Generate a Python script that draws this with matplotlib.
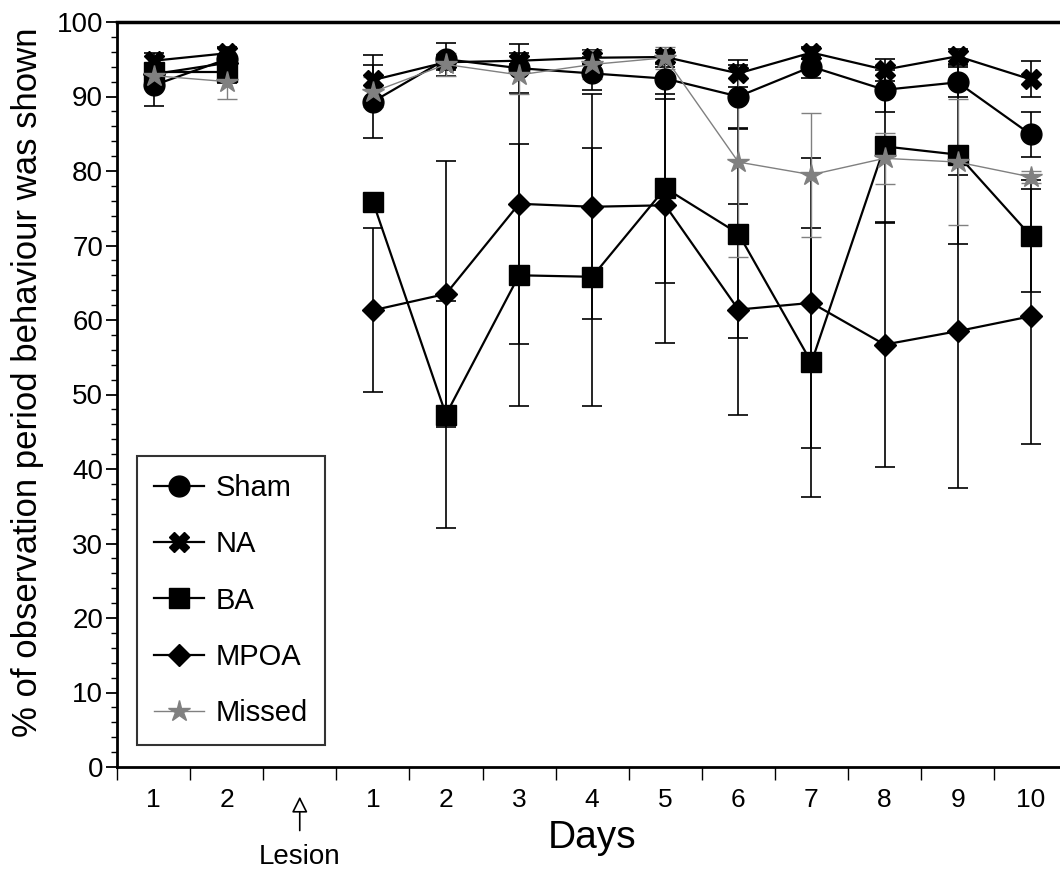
import numpy as np
import matplotlib
matplotlib.use('Agg')
import matplotlib.pyplot as plt
from matplotlib.ticker import MultipleLocator, FixedLocator

plt.rcParams['font.family'] = ['Liberation Sans', 'DejaVu Sans']

# ---------------------------------------------------------------- data
# 2 pre-lesion days followed by 10 post-lesion days
day_labels = ['1', '2', '', '1', '2', '3', '4', '5', '6', '7', '8', '9', '10']
series = ['Sham', 'NA', 'BA', 'MPOA', 'Missed']

sham = [91.5, 95.0, 89.3, 95.0, 93.8, 93.1, 92.4, 90.0, 94.0, 90.9, 91.9, 84.9]
na = [94.8, 95.8, 92.2, 94.6, 94.8, 95.2, 95.3, 93.1, 95.9, 93.6, 95.4, 92.3]
ba = [93.3, 93.3, 75.9, 47.3, 66.0, 65.8, 77.7, 71.6, 54.3, 83.3, 82.2, 71.3]
mpoa = [93.0, 94.5, 61.3, 63.5, 75.6, 75.2, 75.4, 61.4, 62.3, 56.7, 58.5, 60.5]
missed = [92.8, 92.0, 90.6, 94.3, 92.9, 94.3, 95.2, 81.2, 79.5, 81.7, 81.2, 79.2]

sham_se = [2.8, 1.5, 4.9, 2.2, 3.3, 2.2, 2.8, 4.2, 1.5, 3.0, 2.0, 3.0]
na_se = [1.0, 0.8, 3.4, 1.0, 1.0, 1.0, 1.0, 1.8, 0.8, 1.5, 1.0, 2.4]
ba_se = [1.0, 1.5, 1.0, 15.2, 17.6, 17.3, 12.7, 14.0, 18.0, 10.3, 12.0, 7.5]
mpoa_se = [1.0, 1.0, 11.0, 17.9, 18.8, 15.1, 18.5, 14.2, 19.5, 16.4, 21.0, 17.1]
missed_se = [1.5, 2.4, 2.0, 1.5, 2.5, 2.0, 1.5, 12.8, 8.3, 3.4, 8.4, 0.8]

# x slots: pre days 0,1 ; slot 2 = lesion ; post days 3..12
x_pos = np.array([0, 1, 3, 4, 5, 6, 7, 8, 9, 10, 11, 12])

styles = {
    'Sham':   dict(marker='o', ms=15, color='black', lw=1.6, elw=1.2),
    'NA':     dict(marker='X', ms=15, color='black', lw=1.6, elw=1.2),
    'BA':     dict(marker='s', ms=14, color='black', lw=1.6, elw=1.2),
    'MPOA':   dict(marker='D', ms=11, color='black', lw=1.6, elw=1.2),
    'Missed': dict(marker='*', ms=16, color='0.5', lw=1.0, elw=1.0),
}
values = {'Sham': sham, 'NA': na, 'BA': ba, 'MPOA': mpoa, 'Missed': missed}
errors = {'Sham': sham_se, 'NA': na_se, 'BA': ba_se, 'MPOA': mpoa_se, 'Missed': missed_se}

fig = plt.figure(figsize=(10.6, 8.73), dpi=100)
ax = fig.add_axes([117/1060, 1-767/873, 1-117/1060, (767-22)/873])

for name in series:
    st = styles[name]
    y = np.array(values[name])
    e = np.array(errors[name])
    for sl in (slice(0, 2), slice(2, 12)):
        ax.errorbar(x_pos[sl], y[sl], yerr=e[sl], fmt='none', ecolor=st['color'],
                    elinewidth=st['elw'], capsize=7, capthick=st['elw'], zorder=2)
    ax.plot(x_pos[:2], y[:2], color=st['color'], lw=st['lw'], marker=st['marker'],
            ms=st['ms'], mfc=st['color'], mec=st['color'], zorder=3)
    ax.plot(x_pos[2:], y[2:], color=st['color'], lw=st['lw'], marker=st['marker'],
            ms=st['ms'], mfc=st['color'], mec=st['color'], zorder=3, label=name)

ax.set_xlim(-0.5, 12.4)
ax.set_ylim(0, 100)

ax.yaxis.set_major_locator(MultipleLocator(10))
ax.yaxis.set_minor_locator(MultipleLocator(2))
ax.tick_params(axis='y', which='major', length=8, width=1.3, labelsize=20, pad=2)
ax.tick_params(axis='y', which='minor', length=4, width=1.0)

ax.set_xticks(np.arange(13))
ax.set_xticklabels(day_labels)
ax.xaxis.set_minor_locator(FixedLocator(np.arange(-0.5, 12.0, 1.0)))
ax.tick_params(axis='x', which='major', length=0, labelsize=19, pad=15)
ax.tick_params(axis='x', which='minor', length=9, width=1.0)

ax.spines['right'].set_visible(False)
ax.spines['top'].set_linewidth(2.5)
ax.spines['left'].set_linewidth(2.0)
ax.spines['bottom'].set_linewidth(2.0)

ax.set_ylabel('% of observation period behaviour was shown', fontsize=25)
ax.yaxis.set_label_coords(-0.095, 0.517)
ax.yaxis.label.set_va('center')
ax.set_xlabel('Days', fontsize=28)
ax.xaxis.set_label_coords(0.504, -0.095)
ax.xaxis.label.set_va('center')

# lesion marker
ax.annotate('', xy=(2, -3.6), xytext=(2, -8.9), annotation_clip=False,
            arrowprops=dict(arrowstyle='-|>', fc='white', ec='black',
                            mutation_scale=24, lw=1.2))
ax.text(2, -12.1, 'Lesion', ha='center', va='center', fontsize=20, clip_on=False)

leg = ax.legend(loc='lower left', bbox_to_anchor=(0.021, 0.03), fontsize=21,
                frameon=True, fancybox=False, edgecolor='black', borderpad=0.6,
                labelspacing=0.97, handlelength=1.7, handletextpad=0.4,
                borderaxespad=0)
leg.get_frame().set_linewidth(1.5)

fig.savefig('out.png', dpi=100)
